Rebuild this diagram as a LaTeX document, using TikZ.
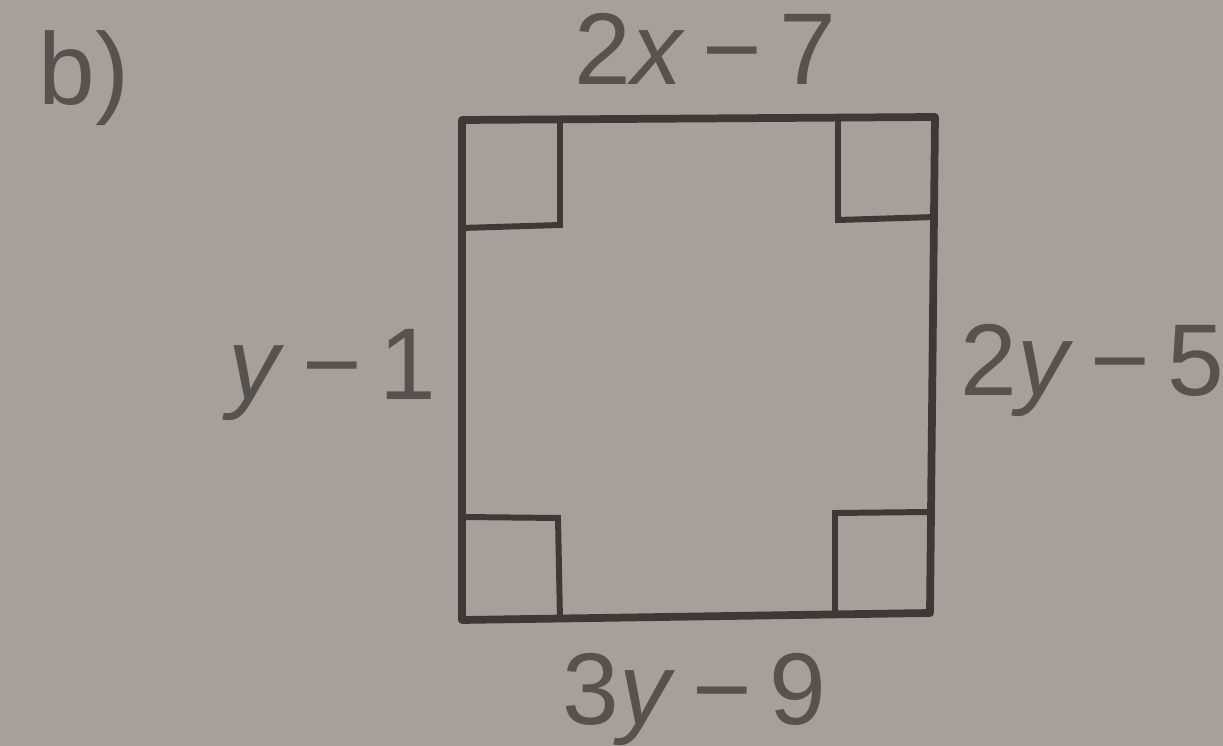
\documentclass[tikz,border=0pt]{standalone}
\usepackage{fontspec}
\setmainfont{Liberation Sans}
\definecolor{paper}{RGB}{166,159,154}
\definecolor{ink}{RGB}{62,57,54}
\definecolor{txt}{RGB}{88,82,79}
\newcommand{\mn}{\hspace{0.17em}−\hspace{0.17em}}
\begin{document}
\begin{tikzpicture}[x=0.01cm,y=-0.01cm,
  side/.style={draw=ink,line width=2.2pt,line join=round},
  anglemark/.style={draw=ink,line width=1.7pt},
  lbl/.style={text=txt,font=\fontsize{29}{32}\selectfont,inner sep=0pt,anchor=base west}]
\fill[paper] (0,0) rectangle (1223,746);
\useasboundingbox (0,0) rectangle (1223,746);
\coordinate (A) at (462,120);
\coordinate (B) at (935,117);
\coordinate (C) at (930,613);
\coordinate (D) at (462,620);
\draw[side] (A) -- (B) -- (C) -- (D) -- cycle;
% right-angle marks
\coordinate (a1) at (462,228); \coordinate (a2) at (560,225); \coordinate (a3) at (560,120);
\coordinate (b1) at (838,119); \coordinate (b2) at (838,220); \coordinate (b3) at (935,217);
\coordinate (d1) at (462,517); \coordinate (d2) at (558,518); \coordinate (d3) at (560,620);
\coordinate (c1) at (835,613); \coordinate (c2) at (835,513); \coordinate (c3) at (930,512);
\draw[anglemark] (a1) -- (a2) -- (a3);
\draw[anglemark] (b1) -- (b2) -- (b3);
\draw[anglemark] (d1) -- (d2) -- (d3);
\draw[anglemark] (c1) -- (c2) -- (c3);
% labels
\node[lbl] (lb) at (38,105) {b)};
\node[lbl] (top) at (574,85) {2\textit{x}\mn7};
\node[lbl] (left) at (228,400) {\textit{y}\mn1};
\node[lbl] (right) at (960,396) {2\textit{y}\mn5};
\node[lbl] (bot) at (562,725) {3\textit{y}\mn9};
\end{tikzpicture}
\end{document}
